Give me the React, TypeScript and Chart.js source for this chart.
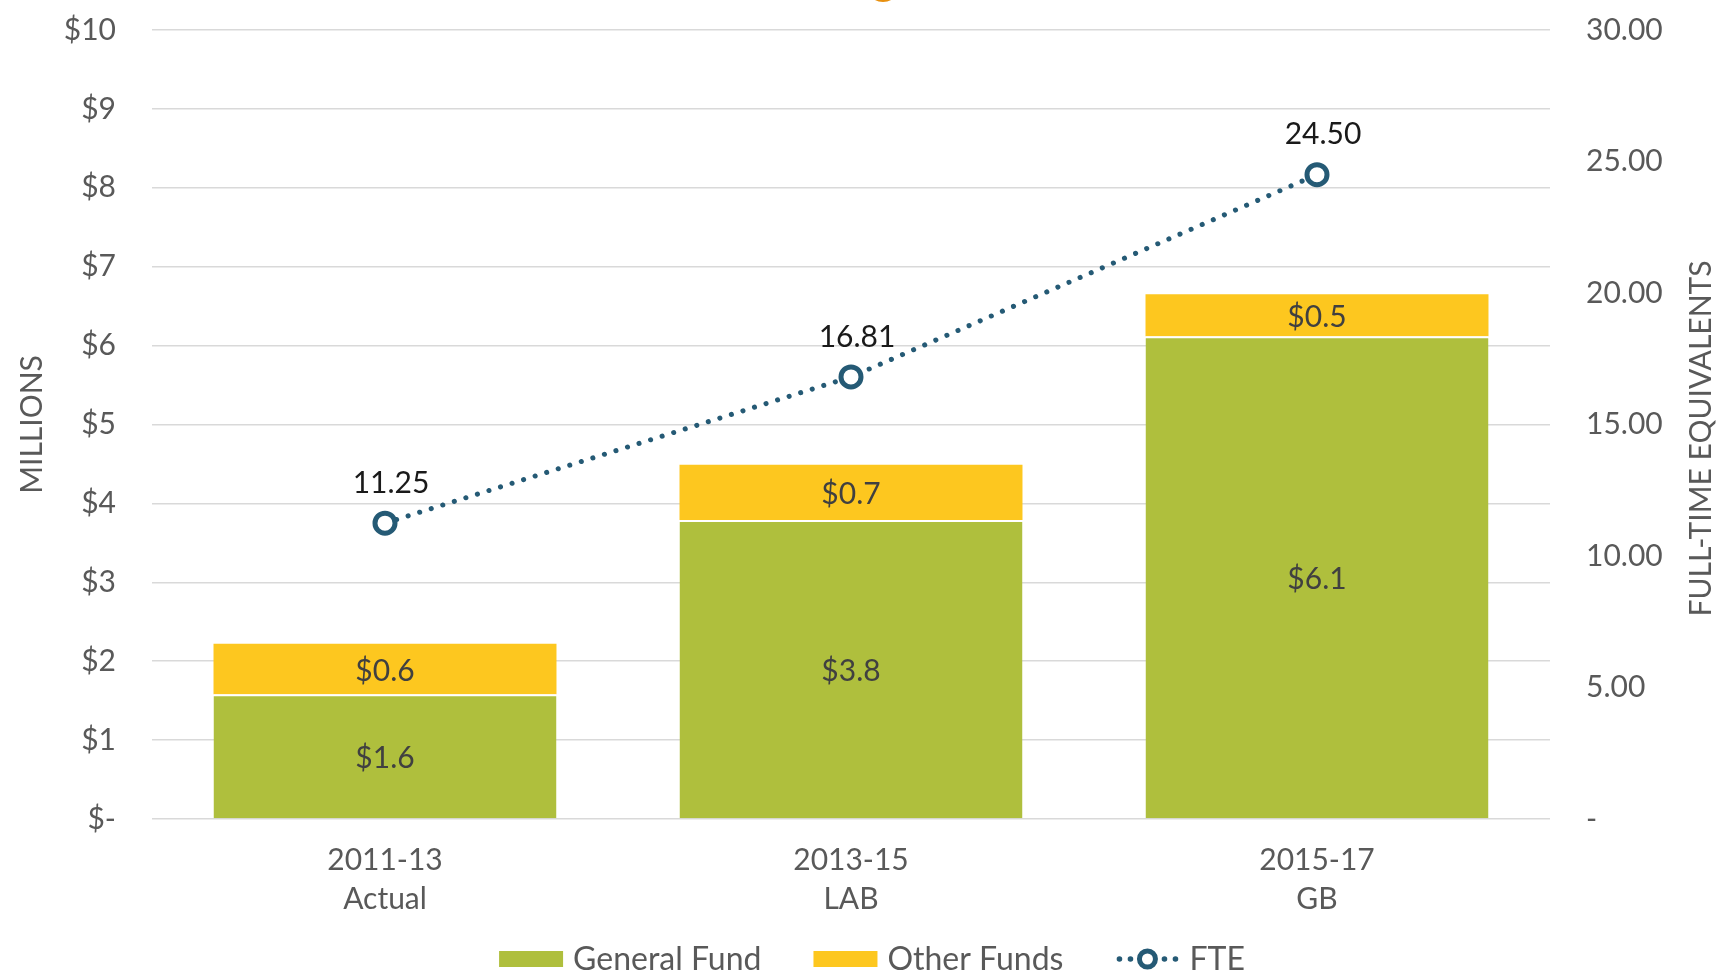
import React, { useEffect, useRef } from "react";
import { Chart, registerables } from "chart.js";

Chart.register(...registerables);

const categories: string[][] = [["2011-13", "Actual"], ["2013-15", "LAB"], ["2015-17", "GB"]];
const generalFund: number[] = [1.58, 3.79, 6.12];
const otherFunds: number[] = [0.64, 0.7, 0.53];
const fte: number[] = [11.25, 16.81, 24.5];
const leftTicks: number[] = [0, 1, 2, 3, 4, 5, 6, 7, 8, 9, 10];
const rightTicks: number[] = [0, 5, 10, 15, 20, 25, 30];
const seriesNames: string[] = ["General Fund", "Other Funds", "FTE"];

const FONT = "Lato, 'Open Sans', sans-serif";
const GREEN = "#AFBF3D";
const YELLOW = "#FDC71F";
const NAVY = "#255A75";
const TEXT = "#595959";
const FS = 30;

const labelPlugin = {
  id: "valueLabels",
  afterDatasetsDraw(chart: any) {
    const ctx = chart.ctx;
    ctx.save();
    ctx.textAlign = "center";
    ctx.textBaseline = "middle";
    ctx.font = `${FS}px ${FONT}`;
    [0, 1].forEach((di) => {
      const meta = chart.getDatasetMeta(di);
      meta.data.forEach((bar: any, i: number) => {
        const v = chart.data.datasets[di].data[i] as number;
        const p = bar.getProps(["x", "y", "base"], true);
        ctx.fillStyle = "#404040";
        ctx.fillText("$" + v.toFixed(1), p.x, (p.y + p.base) / 2 + 2);
      });
    });
    const lm = chart.getDatasetMeta(2);
    lm.data.forEach((pt: any, i: number) => {
      const v = chart.data.datasets[2].data[i] as number;
      ctx.fillStyle = "#1a1a1a";
      ctx.fillText(v.toFixed(2), pt.x + 6, pt.y - 40);
    });
    ctx.restore();
  },
  afterDraw(chart: any) {
    const ctx = chart.ctx;
    const ca = chart.chartArea;
    ctx.save();
    // right axis title, reading bottom-to-top
    ctx.font = `30px ${FONT}`;
    ctx.fillStyle = TEXT;
    ctx.textAlign = "center";
    ctx.textBaseline = "middle";
    ctx.translate(chart.width - 20, (ca.top + ca.bottom) / 2 + 14);
    ctx.rotate(-Math.PI / 2);
    ctx.fillText("FULL-TIME EQUIVALENTS", 0, 0);
    ctx.restore();

    // orange clipped mark at top
    ctx.save();
    ctx.fillStyle = "#E8900F";
    ctx.beginPath();
    ctx.ellipse(883, -9, 14, 11, 0, 0, Math.PI * 2);
    ctx.fill();
    ctx.restore();

    // legend
    ctx.save();
    ctx.font = `32px ${FONT}`;
    ctx.textBaseline = "middle";
    ctx.textAlign = "left";
    const boxW = 64;
    const gapBoxText = 10;
    const gapItems = 52;
    const widths = seriesNames.map((n) => boxW + gapBoxText + ctx.measureText(n).width);
    const total = widths.reduce((a, b) => a + b, 0) + gapItems * (seriesNames.length - 1);
    let x = 872 - total / 2;
    const y = chart.height - 17;
    seriesNames.forEach((n, i) => {
      if (i < 2) {
        ctx.fillStyle = i === 0 ? GREEN : YELLOW;
        ctx.fillRect(x, y - 8, boxW, 16);
      } else {
        ctx.fillStyle = NAVY;
        [4, 15, 49, 60].forEach((dx) => {
          ctx.beginPath();
          ctx.arc(x + dx, y, 2.8, 0, Math.PI * 2);
          ctx.fill();
        });
        ctx.beginPath();
        ctx.arc(x + 32, y, 8, 0, Math.PI * 2);
        ctx.fillStyle = "#fff";
        ctx.fill();
        ctx.lineWidth = 5;
        ctx.strokeStyle = NAVY;
        ctx.stroke();
      }
      ctx.fillStyle = TEXT;
      ctx.fillText(n, x + boxW + gapBoxText, y + 1);
      x += widths[i] + gapItems;
    });
    ctx.restore();
  },
};

export default function App() {
  const ref = useRef<HTMLCanvasElement | null>(null);
  useEffect(() => {
    if (!ref.current) return;
    const chart = new Chart(ref.current, {
      type: "bar",
      data: {
        labels: categories,
        datasets: [
          {
            type: "bar",
            label: seriesNames[0],
            data: generalFund,
            backgroundColor: GREEN,
            borderColor: "#ffffff",
            borderWidth: { top: 2, left: 0, right: 0, bottom: 0 },
            yAxisID: "y",
            stack: "s",
            barPercentage: 1,
            categoryPercentage: 0.736,
            order: 2,
          },
          {
            type: "bar",
            label: seriesNames[1],
            data: otherFunds,
            backgroundColor: YELLOW,
            borderWidth: 0,
            yAxisID: "y",
            stack: "s",
            barPercentage: 1,
            categoryPercentage: 0.736,
            order: 2,
          },
          {
            type: "line",
            label: seriesNames[2],
            data: fte,
            yAxisID: "y1",
            borderColor: NAVY,
            borderWidth: 5,
            borderDash: [0.1, 12],
            borderCapStyle: "round",
            pointRadius: 10,
            pointBorderWidth: 5,
            pointBackgroundColor: "#ffffff",
            pointBorderColor: NAVY,
            fill: false,
            order: 1,
          } as any,
        ],
      },
      options: {
        animation: false,
        responsive: true,
        maintainAspectRatio: false,
        layout: { padding: { top: 30, left: 8, right: 6, bottom: 43 } },
        plugins: {
          tooltip: { enabled: false },
          legend: { display: false },
        },
        scales: {
          x: {
            stacked: true,
            grid: { display: false },
            border: { display: false },
            ticks: { font: { family: FONT, size: FS, lineHeight: 1.3 }, color: TEXT, padding: 14 },
          },
          y: {
            stacked: true,
            position: "left",
            min: 0,
            max: 10,
            afterBuildTicks: (s: any) => {
              s.ticks = leftTicks.map((v) => ({ value: v }));
            },
            grid: { color: "#D9D9D9", lineWidth: 1.5, drawTicks: false },
            border: { display: false },
            ticks: {
              font: { family: FONT, size: FS },
              color: TEXT,
              padding: 36,
              callback: (v: any) => (v === 0 ? "$-" : "$" + v),
            },
            title: {
              display: true,
              text: "MILLIONS",
              font: { family: FONT, size: 30 },
              color: TEXT,
              padding: { top: 6, bottom: 0 },
            },
            afterFit: (s: any) => {
              s.width = 144;
              s.paddingTop = 0;
              s.paddingBottom = 0;
            },
          },
          y1: {
            position: "right",
            min: 0,
            max: 30,
            afterBuildTicks: (s: any) => {
              s.ticks = rightTicks.map((v) => ({ value: v }));
            },
            grid: { drawOnChartArea: false, drawTicks: false },
            border: { display: false },
            ticks: {
              font: { family: FONT, size: FS },
              color: TEXT,
              padding: 36,
              callback: (v: any) => (v === 0 ? "-" : Number(v).toFixed(2)),
            },
            afterFit: (s: any) => {
              s.width = 165;
              s.paddingTop = 0;
              s.paddingBottom = 0;
            },
          },
        },
      },
      plugins: [labelPlugin],
    });
    return () => chart.destroy();
  }, []);
  return (
    <div style={{ position: "absolute", left: 0, top: 0, width: 1721, height: 976, background: "#fff" }}>
      <canvas ref={ref} />
    </div>
  );
}
